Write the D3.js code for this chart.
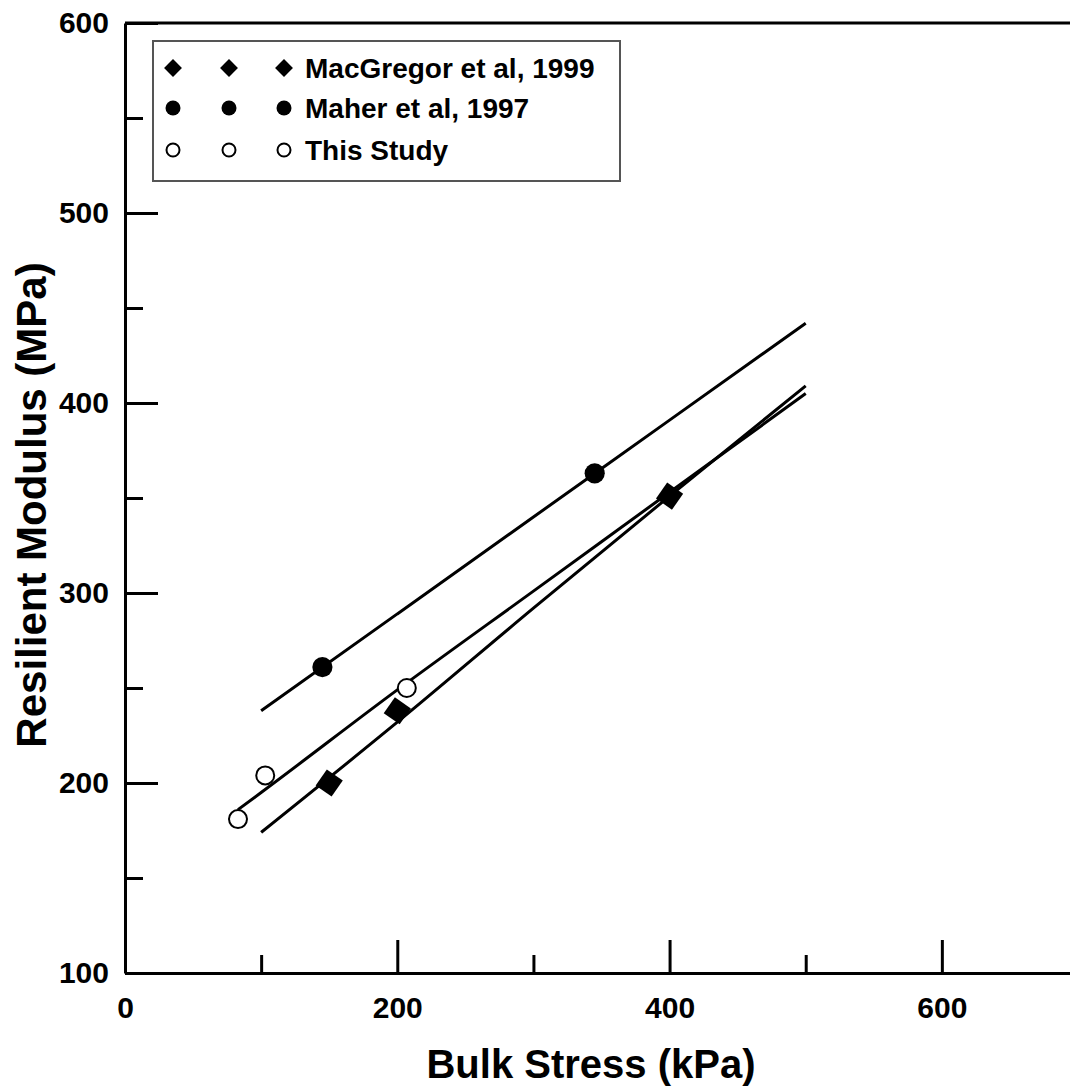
<!DOCTYPE html>
<meta charset="utf-8">
<style>
body { margin: 0; background: #fff; }
text { font-family: "Liberation Sans", Arial, sans-serif; font-weight: bold; fill: #000; }
.axis path, .axis line { stroke: #000; stroke-width: 3px; }
.fit { fill: none; stroke: #000; stroke-width: 3px; }
</style>
<body>
<script src="https://d3js.org/d3.v7.min.js"></script>
<script>

// measured points
var macgregorX = [150, 200, 400];
var macgregorY = [200, 238, 351];
var maherX = [145, 345];
var maherY = [261, 363];
var studyX = [83, 103, 207];
var studyY = [181, 204, 250];

// fitted curves
var macgregorFitX = [100, 200, 300, 400, 500];
var macgregorFitY = [174, 232, 292, 351, 409];
var maherFitX = [100, 200, 300, 400, 500];
var maherFitY = [238, 289, 340, 391, 442];
var studyFitX = [83, 100, 200, 300, 400, 500];
var studyFitY = [186, 195, 249, 301, 353, 405];

var xMajor = [0, 200, 400, 600];
var xMinor = [100, 300, 500];
var yMajor = [100, 200, 300, 400, 500, 600];
var yMinor = [150, 250, 350, 450, 550];

var legendLabels = ["MacGregor et al, 1999", "Maher et al, 1997", "This Study"];

var width = 1070, height = 1086;

var x = d3.scaleLinear().domain([0, 700]).range([125, 1078]);
var y = d3.scaleLinear().domain([100, 600]).range([973, 23]);

var svg = d3.select("body").append("svg")
    .attr("width", width)
    .attr("height", height);

function zip(xs, ys) { return xs.map(function(v, i) { return {x: v, y: ys[i]}; }); }

// frame top / right
svg.append("path")
    .attr("d", "M" + x(0) + "," + y(600) + "H" + x(700) + "V" + y(100))
    .attr("fill", "none").attr("stroke", "#000").attr("stroke-width", 3);

// x axis
svg.append("g").attr("class", "axis")
    .attr("transform", "translate(0," + y(100) + ")")
    .call(d3.axisBottom(x).tickValues(xMajor).tickSize(-33).tickSizeOuter(0).tickPadding(24)
      .tickFormat(d3.format("d")))
    .call(function(g) { g.selectAll("text").style("font-size", "30px").attr("font-family", null); });

svg.append("g").attr("class", "axis")
    .attr("transform", "translate(0," + y(100) + ")")
    .call(d3.axisBottom(x).tickValues(xMinor).tickSize(-18).tickSizeOuter(0).tickFormat(""))
    .call(function(g) { g.select(".domain").remove(); });

// y axis
svg.append("g").attr("class", "axis")
    .attr("transform", "translate(" + x(0) + ",0)")
    .call(d3.axisLeft(y).tickValues(yMajor).tickSize(-33).tickSizeOuter(0).tickPadding(16)
      .tickFormat(d3.format("d")))
    .call(function(g) { g.selectAll("text").style("font-size", "30px").attr("font-family", null); });

svg.append("g").attr("class", "axis")
    .attr("transform", "translate(" + x(0) + ",0)")
    .call(d3.axisLeft(y).tickValues(yMinor).tickSize(-18).tickSizeOuter(0).tickFormat(""))
    .call(function(g) { g.select(".domain").remove(); });

// axis titles
svg.append("text")
    .attr("x", 591).attr("y", 1078)
    .attr("text-anchor", "middle")
    .style("font-size", "40px")
    .text("Bulk Stress (kPa)");

svg.append("text")
    .attr("transform", "translate(46,505) rotate(-90)")
    .attr("text-anchor", "middle")
    .style("font-size", "42px")
    .text("Resilient Modulus (MPa)");

// fitted lines
var line = d3.line()
    .x(function(d) { return x(d.x); })
    .y(function(d) { return y(d.y); })
    .curve(d3.curveMonotoneX);

[zip(macgregorFitX, macgregorFitY), zip(maherFitX, maherFitY), zip(studyFitX, studyFitY)]
  .forEach(function(pts) {
    svg.append("path").datum(pts).attr("class", "fit").attr("d", line);
  });

// markers
var square = d3.symbol().type(d3.symbolSquare).size(380);
var circleBig = d3.symbol().type(d3.symbolCircle).size(320);

svg.selectAll(".mac").data(zip(macgregorX, macgregorY)).enter().append("path")
    .attr("class", "mac")
    .attr("d", square)
    .attr("transform", function(d) { return "translate(" + x(d.x) + "," + y(d.y) + ") rotate(35)"; })
    .attr("fill", "#000");

svg.selectAll(".maher").data(zip(maherX, maherY)).enter().append("path")
    .attr("class", "maher")
    .attr("d", circleBig)
    .attr("transform", function(d) { return "translate(" + x(d.x) + "," + y(d.y) + ")"; })
    .attr("fill", "#000");

svg.selectAll(".study").data(zip(studyX, studyY)).enter().append("circle")
    .attr("class", "study")
    .attr("cx", function(d) { return x(d.x); })
    .attr("cy", function(d) { return y(d.y); })
    .attr("r", 9)
    .attr("fill", "#fff").attr("stroke", "#000").attr("stroke-width", 2);

// legend
var legend = svg.append("g");
legend.append("rect")
    .attr("x", 153).attr("y", 41).attr("width", 467).attr("height", 140)
    .attr("fill", "#fff").attr("stroke", "#555").attr("stroke-width", 2);

var rowsY = [68, 108, 150];
var colsX = [173, 229, 284];

legendLabels.forEach(function(label, i) {
  colsX.forEach(function(cx) {
    if (i === 0) {
      legend.append("path")
        .attr("d", d3.symbol().type(d3.symbolSquare).size(160))
        .attr("transform", "translate(" + cx + "," + rowsY[i] + ") rotate(45)")
        .attr("fill", "#000");
    } else if (i === 1) {
      legend.append("circle").attr("cx", cx).attr("cy", rowsY[i]).attr("r", 7.5).attr("fill", "#000");
    } else {
      legend.append("circle").attr("cx", cx).attr("cy", rowsY[i]).attr("r", 6.5)
        .attr("fill", "#fff").attr("stroke", "#000").attr("stroke-width", 2);
    }
  });
  legend.append("text")
    .attr("x", 305).attr("y", rowsY[i] + 10)
    .style("font-size", "28px")
    .text(label);
});

</script>
</body>
